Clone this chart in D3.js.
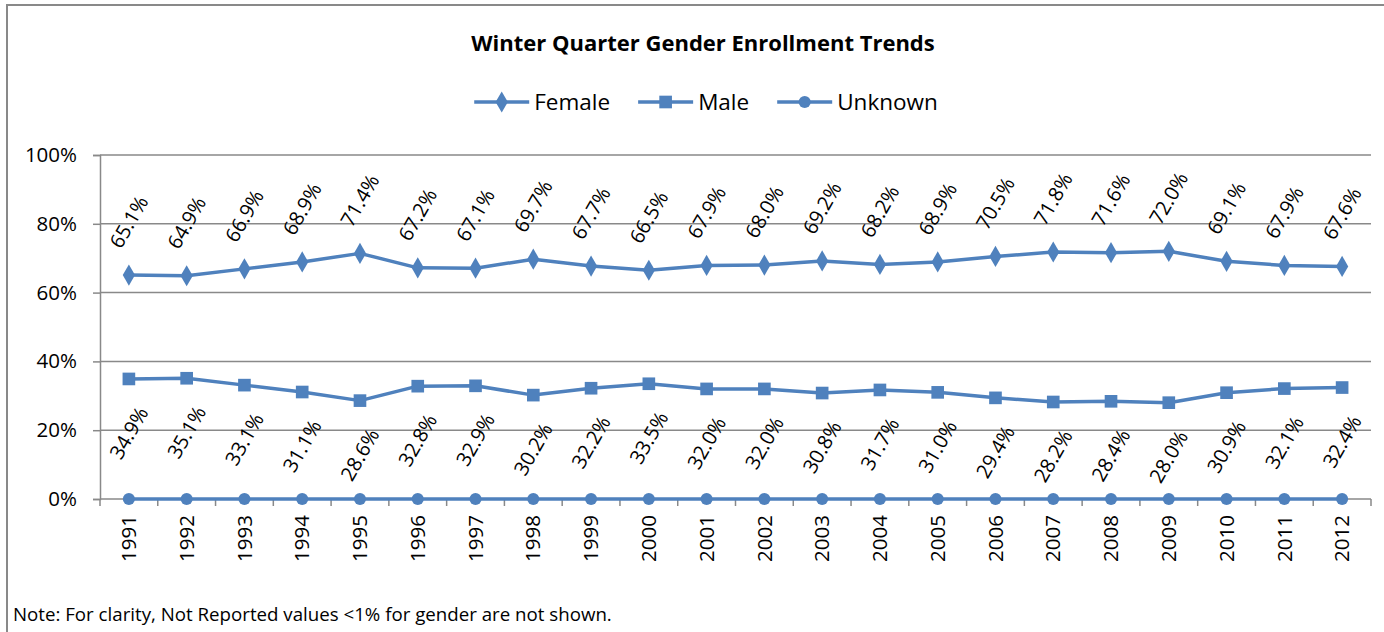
<!DOCTYPE html>
<html lang="en">
    <head>
        <title>Winter Quarter Gender Enrollment Trends</title>
        <script src="https://d3js.org/d3.v7.min.js"></script>
        <style>
            body { margin: 0; background: #fff; }
            text { font-family: "Open Sans", sans-serif; fill: #000; }
        </style>
    </head>
<body>
    <div id="chart"></div>
    <script type="text/javascript">

var w = 1384;
var h = 632;
var blue = "#4F81BD";
var grey = "#898989";

// data
var years = ["1991","1992","1993","1994","1995","1996","1997","1998","1999","2000","2001",
             "2002","2003","2004","2005","2006","2007","2008","2009","2010","2011","2012"];
var female = [65.1,64.9,66.9,68.9,71.4,67.2,67.1,69.7,67.7,66.5,67.9,
              68.0,69.2,68.2,68.9,70.5,71.8,71.6,72.0,69.1,67.9,67.6];
var male = [34.9,35.1,33.1,31.1,28.6,32.8,32.9,30.2,32.2,33.5,32.0,
            32.0,30.8,31.7,31.0,29.4,28.2,28.4,28.0,30.9,32.1,32.4];
var unknown = [0,0,0,0,0,0,0,0,0,0,0,0,0,0,0,0,0,0,0,0,0,0];
var yTicks = [0,20,40,60,80,100];

var series = [
    {name: "Female", values: female, marker: d3.symbolDiamond, size: 130, label: "above"},
    {name: "Male", values: male, marker: d3.symbolSquare, size: 160, label: "below"},
    {name: "Unknown", values: unknown, marker: d3.symbolCircle, size: 115, label: null}
];

var margin = {left: 100, right: 1371, top: 155, bottom: 499};

var xScale = d3.scaleBand()
    .domain(years)
    .range([margin.left, margin.right]);

var yScale = d3.scaleLinear()
    .domain([0, 100])
    .range([margin.bottom, margin.top]);

function px(d){ return xScale(d) + xScale.bandwidth()/2; }

var svg = d3.select("#chart")
    .append("svg")
    .attr("width", w)
    .attr("height", h);

// outer chart frame (runs off right and bottom)
svg.append("rect")
    .attr("x", 7)
    .attr("y", 5)
    .attr("width", w + 20)
    .attr("height", h + 20)
    .attr("fill", "none")
    .attr("stroke", grey)
    .attr("stroke-width", 2);

// title
svg.append("text")
    .attr("x", 703)
    .attr("y", 51)
    .attr("text-anchor", "middle")
    .style("font-size", "22px")
    .style("font-weight", "bold")
    .text("Winter Quarter Gender Enrollment Trends");

// gridlines
svg.append("g")
    .selectAll("line")
    .data(yTicks.slice(1))
    .enter()
    .append("line")
    .attr("x1", margin.left)
    .attr("x2", margin.right)
    .attr("y1", function(d){ return yScale(d); })
    .attr("y2", function(d){ return yScale(d); })
    .attr("stroke", grey)
    .attr("stroke-width", 1.5);

// y axis
var yAxis = svg.append("g")
    .attr("transform", "translate(" + margin.left + ",0)")
    .call(d3.axisLeft(yScale)
        .tickValues(yTicks)
        .tickSize(7)
        .tickPadding(16)
        .tickFormat(function(d){ return d + "%"; }));
yAxis.select(".domain").attr("stroke", grey).attr("stroke-width", 1.5);
yAxis.selectAll(".tick line").attr("stroke", grey).attr("stroke-width", 1.5);
yAxis.selectAll("text").style("font-size", "20.5px").attr("fill", "#000");

// x axis: labels at band centres, ticks at band edges
var xAxis = svg.append("g")
    .attr("transform", "translate(0," + margin.bottom + ")")
    .call(d3.axisBottom(xScale).tickSize(0).tickPadding(0));
xAxis.select(".domain").remove();
xAxis.selectAll("text")
    .style("font-size", "20.5px")
    .attr("fill", "#000")
    .attr("text-anchor", "end")
    .attr("transform", "translate(0,16) rotate(-90)")
    .attr("x", 0)
    .attr("y", 0)
    .attr("dy", "0.35em");

svg.append("line")
    .attr("x1", margin.left)
    .attr("x2", margin.right)
    .attr("y1", margin.bottom)
    .attr("y2", margin.bottom)
    .attr("stroke", grey)
    .attr("stroke-width", 1.5);

svg.append("g")
    .selectAll("line")
    .data(years.map(function(d){ return xScale(d); }).concat([margin.right]))
    .enter()
    .append("line")
    .attr("x1", function(d){ return d; })
    .attr("x2", function(d){ return d; })
    .attr("y1", margin.bottom)
    .attr("y2", margin.bottom + 7)
    .attr("stroke", grey)
    .attr("stroke-width", 1.5);

// lines, markers and labels
var line = d3.line()
    .x(function(d, i){ return px(years[i]); })
    .y(function(d){ return yScale(d); });

series.forEach(function(s){
    var g = svg.append("g");
    g.append("path")
        .datum(s.values)
        .attr("d", line)
        .attr("fill", "none")
        .attr("stroke", blue)
        .attr("stroke-width", 3.5)
        .attr("stroke-linejoin", "round");

    g.selectAll(".marker")
        .data(s.values)
        .enter()
        .append("path")
        .attr("class", "marker")
        .attr("d", d3.symbol().type(s.marker).size(s.size))
        .attr("transform", function(d, i){
            return "translate(" + px(years[i]) + "," + yScale(d) + ")";
        })
        .attr("fill", blue);

    if (s.label) {
        var off = s.label == "above" ? -53 : 54;
        g.selectAll(".lbl")
            .data(s.values)
            .enter()
            .append("text")
            .attr("class", "lbl")
            .attr("text-anchor", "middle")
            .attr("dy", "0.35em")
            .style("font-size", "20px")
            .attr("transform", function(d, i){
                return "translate(" + px(years[i]) + "," + (yScale(d) + off) + ") rotate(-60)";
            })
            .text(function(d){ return d.toFixed(1) + "%"; });
    }
});

// legend
var legend = svg.append("g");
var lx = 0;
series.forEach(function(s, i){
    var item = legend.append("g").attr("transform", "translate(" + lx + ",0)");
    item.append("line")
        .attr("x1", 0).attr("x2", 55)
        .attr("y1", 0).attr("y2", 0)
        .attr("stroke", blue)
        .attr("stroke-width", 3.5);
    item.append("path")
        .attr("d", d3.symbol().type(s.marker).size(s.size))
        .attr("transform", "translate(27.5,0)")
        .attr("fill", blue);
    var t = item.append("text")
        .attr("x", 60)
        .attr("dy", "0.35em")
        .style("font-size", "22.5px")
        .text(s.name);
    lx += 60 + t.node().getComputedTextLength() + 28;
});
var legendW = lx - 28;
legend.attr("transform", "translate(" + (706 - legendW/2) + ",102)");

// footnote
svg.append("text")
    .attr("x", 13)
    .attr("y", 621)
    .style("font-size", "18.7px")
    .text("Note: For clarity, Not Reported values <1% for gender are not shown.");

    </script>
</body>
</html>
